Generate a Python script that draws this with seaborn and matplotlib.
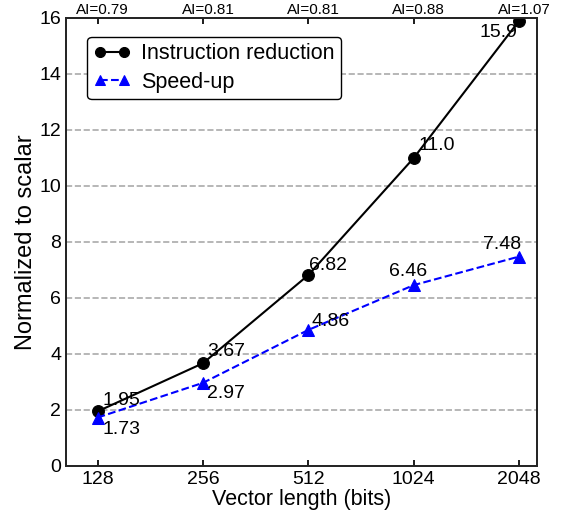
import matplotlib
matplotlib.use("Agg")
import matplotlib.pyplot as plt
import matplotlib.transforms as mtransforms
import seaborn as sns
import pandas as pd
import numpy as np

vector_lengths = ["128", "256", "512", "1024", "2048"]
instr_reduction = [1.95, 3.67, 6.82, 11.0, 15.9]
speedup = [1.73, 2.97, 4.86, 6.46, 7.48]
ai_labels = ["AI=0.79", "AI=0.81", "AI=0.81", "AI=0.88", "AI=1.07"]
instr_labels = ["1.95", "3.67", "6.82", "11.0", "15.9"]
speed_labels = ["1.73", "2.97", "4.86", "6.46", "7.48"]

sns.set_theme(style="white", rc={"text.color": "black", "axes.labelcolor": "black",
                                 "xtick.color": "black", "ytick.color": "black"})
plt.rcParams['font.family'] = ['Liberation Sans', 'DejaVu Sans']

fig = plt.figure(figsize=(5.64, 5.21), dpi=100)
ax = fig.add_axes([66/564, 1 - 466/521, (537-66)/564, (466-18)/521])

pos = np.arange(len(vector_lengths))
df = pd.DataFrame({"pos": pos, "instr": instr_reduction, "speed": speedup})

sns.lineplot(data=df, x="pos", y="instr", ax=ax, color="black", linestyle="-",
             marker="o", markersize=8.5, markeredgecolor="black", linewidth=1.5,
             label="Instruction reduction")
sns.lineplot(data=df, x="pos", y="speed", ax=ax, color="blue", linestyle="--",
             marker="^", markersize=8.5, markeredgecolor="blue", linewidth=1.5,
             label="Speed-up")

ax.set_xlim(-0.3, 4.17)
ax.set_ylim(0, 16)
ax.set_xticks(pos)
ax.set_xticklabels(vector_lengths)
ax.set_yticks(range(0, 17, 2))
ax.tick_params(axis="both", direction="in", labelsize=14, length=4, color="black",
               labelcolor="black")
for y in range(2, 16, 2):
    ax.axhline(y, color="#aaaaaa", linestyle="--", linewidth=1.2, zorder=0)

ax.set_xlabel("Vector length (bits)", fontsize=15.5, labelpad=1)
ax.set_ylabel("Normalized to scalar", fontsize=17, labelpad=1.5)

for s in ax.spines.values():
    s.set_color("black")
    s.set_linewidth(1.2)

ax2 = ax.twiny()
ax2.set_xlim(ax.get_xlim())
ax2.set_xticks(pos)
ax2.set_xticklabels(ai_labels)
ax2.tick_params(axis="x", direction="in", labelsize=11, length=4, pad=0.5,
                color="black", labelcolor="black")
shift = mtransforms.ScaledTranslation(5/100, 0, fig.dpi_scale_trans)
for lbl in ax2.get_xticklabels():
    lbl.set_transform(lbl.get_transform() + shift)

instr_off = [(5, 11), (4, 12), (1, 10), (5, 12), (-40, -12)]
speed_off = [(5, -12), (4, -11), (3, 8), (-25, 14), (-36, 12)]
for i in range(len(pos)):
    ax.annotate(instr_labels[i], (pos[i], instr_reduction[i]), xytext=instr_off[i],
                textcoords="offset pixels", ha="left", va="center", fontsize=14,
                color="black")
    ax.annotate(speed_labels[i], (pos[i], speedup[i]), xytext=speed_off[i],
                textcoords="offset pixels", ha="left", va="center", fontsize=14,
                color="black")

leg = ax.legend(loc="upper left", bbox_to_anchor=(0.045, 0.958), borderaxespad=0,
                fontsize=15.5, numpoints=2, handlelength=1.7, frameon=True,
                fancybox=True, borderpad=0.3, labelspacing=0.35, handletextpad=0.5,
                markerscale=0.85)
leg.get_frame().set_edgecolor("black")
leg.get_frame().set_linewidth(1.0)
leg.get_frame().set_alpha(1.0)

fig.savefig("out.png", dpi=100)
